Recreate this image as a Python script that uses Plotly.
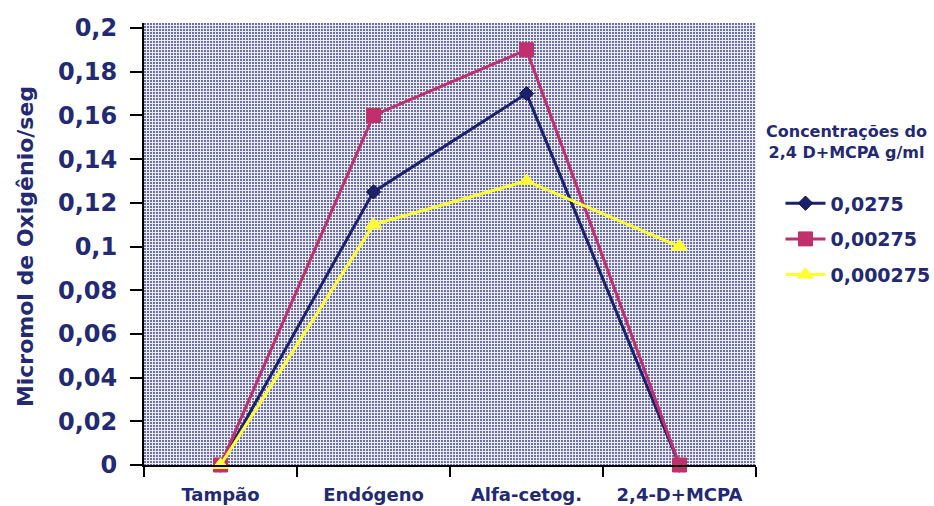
import base64
import struct
import zlib

import plotly.graph_objects as go

# Categories on the x axis and the oxygen uptake for each concentration
categorias = ["Tampão", "Endógeno", "Alfa-cetog.", "2,4-D+MCPA"]
serie_0_0275 = [0.0, 0.125, 0.17, 0.0]
serie_0_00275 = [0.0, 0.16, 0.19, 0.0]
serie_0_000275 = [0.0, 0.11, 0.13, 0.10]
nomes = ["0,0275", "0,00275", "0,000275"]

y_ticks = [0, 0.02, 0.04, 0.06, 0.08, 0.1, 0.12, 0.14, 0.16, 0.18, 0.2]
y_tick_text = ["0", "0,02", "0,04", "0,06", "0,08", "0,1", "0,12", "0,14", "0,16", "0,18", "0,2"]

NAVY = "#1c216e"
MAGENTA = "#c0306c"
YELLOW = "#ffff33"
TEXT = "#232a73"
FONT = "DejaVu Sans"

W, H = 934, 506
L, R, T, B = 144, 178, 23, 41


def halftone_png(w, h, dark=(108, 112, 170), light=(236, 236, 244)):
    """Build a fine dotted texture as a PNG data URI for the plot background."""
    rows = []
    for y in range(h):
        row = bytearray([0])
        for x in range(w):
            c = dark if (x % 3 != 2 and y % 3 != 2) else light
            row.extend(c)
        rows.append(bytes(row))
    raw = b"".join(rows)

    def chunk(tag, data):
        return (struct.pack(">I", len(data)) + tag + data
                + struct.pack(">I", zlib.crc32(tag + data) & 0xFFFFFFFF))

    png = (b"\x89PNG\r\n\x1a\n"
           + chunk(b"IHDR", struct.pack(">IIBBBBB", w, h, 8, 2, 0, 0, 0))
           + chunk(b"IDAT", zlib.compress(raw, 9))
           + chunk(b"IEND", b""))
    return "data:image/png;base64," + base64.b64encode(png).decode()


fig = go.Figure()

series = [
    (serie_0_0275, NAVY, "diamond", 11),
    (serie_0_00275, MAGENTA, "square", 14),
    (serie_0_000275, YELLOW, "triangle-up", 14),
]
for i, (vals, cor, simb, tam) in enumerate(series):
    fig.add_trace(go.Scatter(
        x=categorias, y=vals, name=nomes[i], mode="lines+markers",
        line=dict(color=cor, width=3),
        marker=dict(symbol=simb, size=tam, color=cor,
                    line=dict(width=1, color="#0d0d33" if i == 0 else cor)),
        legendgroup=str(i),
        cliponaxis=False,
    ))

fig.update_layout(
    width=W, height=H,
    margin=dict(l=L, r=R, t=T, b=B, autoexpand=False),
    paper_bgcolor="white",
    plot_bgcolor="#b4b6d3",
    font=dict(family=FONT, color=TEXT),
    showlegend=True,
    legend=dict(
        x=1.04, y=0.635, xanchor="left", yanchor="top",
        bgcolor="rgba(0,0,0,0)",
        font=dict(family=FONT, size=19, color=TEXT, weight="bold"),
        tracegroupgap=8,
        itemwidth=40,
    ),
    annotations=[
        dict(
            text="Concentrações do<br>2,4 D+MCPA g/ml",
            xref="paper", yref="paper", x=1.148, y=0.73,
            xanchor="center", yanchor="middle", showarrow=False, align="center",
            font=dict(family=FONT, size=16, color=TEXT, weight="bold"),
        ),
        dict(
            text="Micromol de Oxigênio/seg",
            xref="paper", yref="paper", x=-0.1944, y=0.493,
            xanchor="center", yanchor="middle", showarrow=False, textangle=-90,
            font=dict(family=FONT, size=22, color=TEXT, weight="bold"),
        ),
    ],
    images=[dict(
        source=halftone_png(W - L - R, H - T - B),
        xref="paper", yref="paper", x=0, y=1, sizex=1, sizey=1,
        sizing="stretch", layer="below",
    )],
)

fig.update_xaxes(
    type="category", range=[-0.5, 3.5],
    showgrid=False, zeroline=False,
    showline=True, linecolor="black", linewidth=2,
    ticks="outside", tickson="boundaries", ticklen=10, tickwidth=2, tickcolor="black",
    ticklabelstandoff=12,
    tickfont=dict(family=FONT, size=18, color=TEXT, weight="bold"),
)
fig.update_yaxes(
    range=[0, 0.2023],
    tickvals=y_ticks, ticktext=y_tick_text,
    showgrid=False, zeroline=False,
    showline=True, linecolor="black", linewidth=2,
    ticks="outside", ticklen=12, tickwidth=2, tickcolor="black",
    ticklabelstandoff=8,
    tickfont=dict(family=FONT, size=24, color=TEXT, weight="bold"),
)

fig.write_html("out.html")
